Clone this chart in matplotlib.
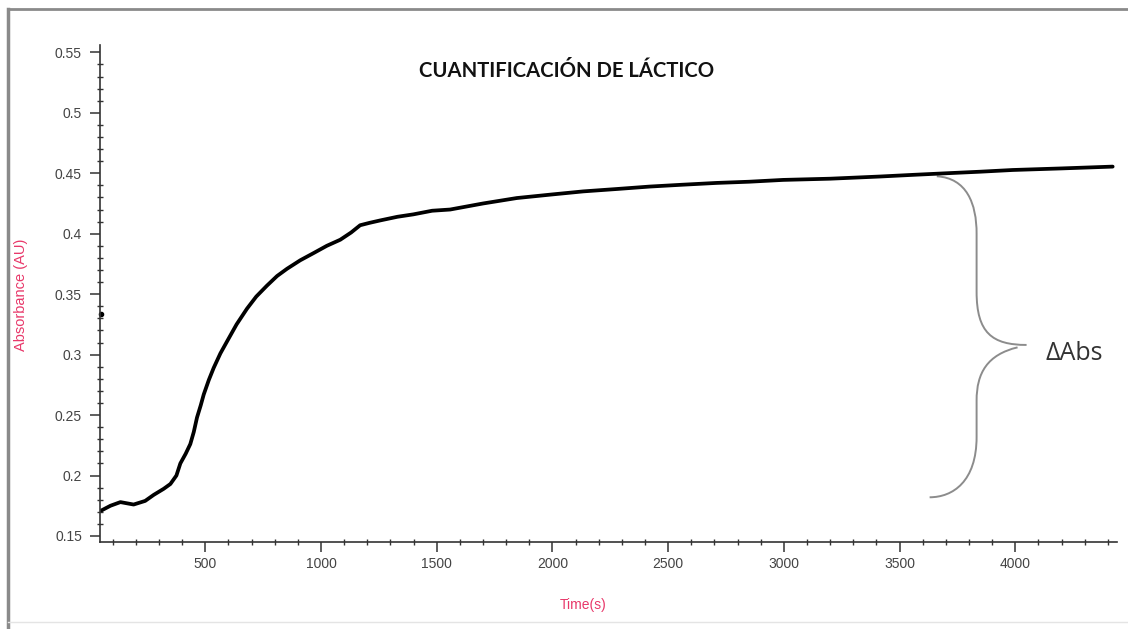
import numpy as np
import matplotlib
matplotlib.use("Agg")
import matplotlib.pyplot as plt
from matplotlib.path import Path
from matplotlib.patches import PathPatch
from matplotlib.lines import Line2D
from matplotlib.ticker import MultipleLocator

# lectura de absorbancia frente al tiempo
tiempo = [50, 90, 133, 190, 240, 277, 320, 349, 375, 392, 415, 435, 450, 464,
          480, 493, 515, 536, 565, 594, 635, 680, 720, 766, 810, 853, 910, 968,
          1025, 1083, 1130, 1169, 1210, 1256, 1330, 1399, 1480, 1558, 1700,
          1846, 2000, 2133, 2280, 2421, 2560, 2709, 2850, 2997, 3200, 3415,
          3560, 3703, 3850, 3989, 4200, 4421]
absorbancia = [0.171, 0.175, 0.178, 0.176, 0.179, 0.184, 0.189, 0.193, 0.200,
               0.210, 0.218, 0.226, 0.236, 0.248, 0.258, 0.267, 0.279, 0.289,
               0.301, 0.311, 0.325, 0.338, 0.348, 0.357, 0.365, 0.371, 0.378,
               0.384, 0.390, 0.395, 0.401, 0.407, 0.409, 0.411, 0.414, 0.416,
               0.419, 0.420, 0.425, 0.4295, 0.4325, 0.435, 0.437, 0.439,
               0.4405, 0.442, 0.443, 0.4445, 0.4455, 0.4473, 0.4487, 0.450,
               0.4513, 0.4527, 0.454, 0.4555]
# primer punto suelto
tiempo_ini = [47]
abs_ini = [0.334]

x_ticks = [500, 1000, 1500, 2000, 2500, 3000, 3500, 4000]
y_ticks = [0.15, 0.2, 0.25, 0.3, 0.35, 0.4, 0.45, 0.5, 0.55]
y_tick_labels = ["0.15", "0.2", "0.25", "0.3", "0.35", "0.4", "0.45", "0.5", "0.55"]

fig = plt.figure(figsize=(11.28, 6.29), dpi=100)
ax = fig.add_axes([0.0887, 0.1383, 0.9016, 0.790])

ax.plot(tiempo, absorbancia, color="black", lw=2.7, solid_capstyle="round")
ax.plot(tiempo_ini, abs_ini, "o", color="black", ms=3, clip_on=False)

ax.set_xlim(45, 4440)
ax.set_ylim(0.145, 0.556)

for s in ("top", "right"):
    ax.spines[s].set_visible(False)
for s in ("left", "bottom"):
    ax.spines[s].set_color("#333333")
    ax.spines[s].set_linewidth(1.2)

ax.set_xticks(x_ticks)
ax.set_yticks(y_ticks)
ax.set_yticklabels(y_tick_labels)
ax.xaxis.set_minor_locator(MultipleLocator(100))
ax.yaxis.set_minor_locator(MultipleLocator(0.01))
ax.tick_params(which="major", direction="out", length=7, width=1.1,
               color="#333333", labelsize=10, labelcolor="#444444",
               labelfontfamily="Liberation Sans")
ax.tick_params(axis="y", which="major", pad=6)
ax.tick_params(axis="x", which="major", pad=4)
ax.tick_params(which="minor", direction="inout", length=4, width=1.0,
               color="#333333")

ax.set_xlabel("Time(s)", color="#e8386a", fontsize=10,
              fontfamily="Liberation Sans")
ax.set_ylabel("Absorbance (AU)", color="#e8386a", fontsize=10.5,
              fontfamily="Liberation Sans")
ax.xaxis.set_label_coords(0.475, -0.113)
ax.yaxis.set_label_coords(-0.071, 0.497)

ax.text(0.459, 0.948, "CUANTIFICACIÓN DE LÁCTICO", transform=ax.transAxes,
        ha="center", va="center", fontsize=14.6, fontweight="bold",
        fontfamily=["Lato", "DejaVu Sans"], color="#111111")

# llave que marca el incremento de absorbancia
llave = [
    (Path.MOVETO, (3661, 0.4475)),
    (Path.CURVE4, (3790, 0.446)),
    (Path.CURVE4, (3833, 0.425)),
    (Path.CURVE4, (3833, 0.400)),
    (Path.LINETO, (3833, 0.352)),
    (Path.CURVE4, (3833, 0.318)),
    (Path.CURVE4, (3900, 0.308)),
    (Path.CURVE4, (4049, 0.308)),
    (Path.MOVETO, (4010, 0.306)),
    (Path.CURVE4, (3880, 0.300)),
    (Path.CURVE4, (3833, 0.285)),
    (Path.CURVE4, (3833, 0.262)),
    (Path.LINETO, (3833, 0.232)),
    (Path.CURVE4, (3833, 0.195)),
    (Path.CURVE4, (3730, 0.182)),
    (Path.CURVE4, (3630, 0.182)),
]
codes, verts = zip(*llave)
ax.add_patch(PathPatch(Path(verts, codes), fill=False, edgecolor="#8c8c8c",
                       lw=1.4, clip_on=False))
ax.text(4256, 0.301, "ΔAbs", ha="center", va="center", fontsize=18,
        fontfamily=["Open Sans", "DejaVu Sans"], color="#333333")

# marco gris del recuadro
fig.add_artist(Line2D([8 / 1128, 8 / 1128], [0, 1 - 9 / 629], color="#8a8a8a",
                      lw=2.5, transform=fig.transFigure))
fig.add_artist(Line2D([8 / 1128, 1], [1 - 9 / 629, 1 - 9 / 629],
                      color="#8a8a8a", lw=2, transform=fig.transFigure))
fig.add_artist(Line2D([8 / 1128, 1], [1 - 622 / 629, 1 - 622 / 629],
                      color="#e4e4e4", lw=1, transform=fig.transFigure))

fig.savefig("out.png", dpi=100, facecolor="white")
